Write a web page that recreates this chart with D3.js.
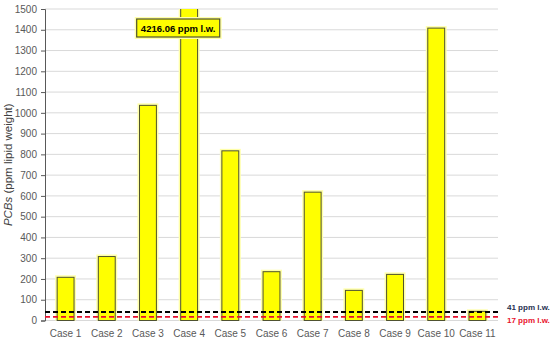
<!DOCTYPE html>
<html>
<head>
<meta charset="utf-8">
<script src="https://cdn.jsdelivr.net/npm/d3@7"></script>
<style>
  body { margin: 0; background: #fff; }
  text { font-family: "Liberation Sans", Arial, sans-serif; }
</style>
</head>
<body>
<div id="chart"></div>
<script>
var svgWidth = 550;
var svgHeight = 340;

var margin = { top: 9, right: 52, bottom: 20, left: 45 };
var width = svgWidth - margin.left - margin.right;
var height = 320.5 - margin.top;

// data
var cases = ["Case 1", "Case 2", "Case 3", "Case 4", "Case 5", "Case 6", "Case 7", "Case 8", "Case 9", "Case 10", "Case 11"];
var pcbs = [208, 308, 1036, 4216.06, 817, 235, 618, 145, 222, 1408, 44];
var yTicks = [0, 100, 200, 300, 400, 500, 600, 700, 800, 900, 1000, 1100, 1200, 1300, 1400, 1500];
var thresholds = [41, 17];
var thresholdLabels = ["41 ppm l.w.", "17 ppm l.w."];
var thresholdColors = ["#000000", "#e8112d"];
var thresholdTextColors = ["#1f3050", "#e8112d"];
var calloutText = "4216.06 ppm l.w.";

var svg = d3.select("#chart")
  .append("svg")
  .attr("width", svgWidth)
  .attr("height", svgHeight);

var chartGroup = svg.append("g")
  .attr("transform", `translate(${margin.left}, ${margin.top})`);

var x = d3.scaleBand()
  .domain(cases)
  .range([0, width])
  .paddingInner(0.59)
  .paddingOuter(0.295);

var y = d3.scaleLinear()
  .domain([0, 1500])
  .range([height, 0]);

// gridlines
chartGroup.append("g")
  .selectAll("line")
  .data(yTicks)
  .enter()
  .append("line")
  .attr("x1", 0)
  .attr("x2", width)
  .attr("y1", d => y(d))
  .attr("y2", d => y(d))
  .attr("stroke", "#d9d9d9")
  .attr("stroke-width", 1);

// y axis
var leftAxis = d3.axisLeft(y).tickValues(yTicks).tickFormat(d3.format("d")).tickSize(4).tickPadding(4);
var yAxis = chartGroup.append("g").call(leftAxis);
yAxis.select(".domain").attr("stroke", "#595959");
yAxis.selectAll(".tick line").attr("stroke", "#595959");
yAxis.selectAll("text")
  .attr("fill", "#595959")
  .style("font-size", "10px");

// bars are clipped at the top of the plot (Case 4 runs off the scale)
var clipId = "plotclip";
svg.append("defs").append("clipPath").attr("id", clipId)
  .append("rect").attr("x", -5).attr("y", 0).attr("width", width + 10).attr("height", height + 2);

var barsGroup = chartGroup.append("g").attr("clip-path", `url(#${clipId})`);

barsGroup.selectAll("rect.glow")
  .data(pcbs)
  .enter()
  .append("rect")
  .attr("class", "glow")
  .attr("x", (d, i) => x(cases[i]) - 2)
  .attr("y", d => y(Math.min(d, 1520)) - 2)
  .attr("width", x.bandwidth() + 4)
  .attr("height", d => height - y(Math.min(d, 1520)) + 2)
  .attr("fill", "#ffffa8");

barsGroup.selectAll("rect.bar")
  .data(pcbs)
  .enter()
  .append("rect")
  .attr("class", "bar")
  .attr("x", (d, i) => x(cases[i]))
  .attr("y", d => y(Math.min(d, 1520)))
  .attr("width", x.bandwidth())
  .attr("height", d => height - y(Math.min(d, 1520)))
  .attr("fill", "#ffff00")
  .attr("stroke", "#4f5230")
  .attr("stroke-width", 1);

// threshold dashed lines
chartGroup.selectAll("line.threshold")
  .data(thresholds)
  .enter()
  .append("line")
  .attr("class", "threshold")
  .attr("x1", 0)
  .attr("x2", width)
  .attr("y1", d => y(d))
  .attr("y2", d => y(d))
  .attr("stroke", (d, i) => thresholdColors[i])
  .attr("stroke-width", 1.8)
  .attr("stroke-dasharray", "5,3");

chartGroup.selectAll("text.threshold")
  .data(thresholds)
  .enter()
  .append("text")
  .attr("class", "threshold")
  .attr("x", width + 9)
  .attr("y", (d, i) => i === 0 ? y(d) - 1.5 : y(d) + 6)
  .attr("fill", (d, i) => thresholdTextColors[i])
  .style("font-size", "8px")
  .style("font-weight", "bold")
  .text((d, i) => thresholdLabels[i]);

// x labels
chartGroup.selectAll("text.xlab")
  .data(cases)
  .enter()
  .append("text")
  .attr("class", "xlab")
  .attr("x", d => x(d) + x.bandwidth() / 2)
  .attr("y", height + 16)
  .attr("text-anchor", "middle")
  .attr("fill", "#595959")
  .style("font-size", "10px")
  .text(d => d);

// callout for the clipped bar
var calloutGroup = chartGroup.append("g")
  .attr("transform", `translate(${x("Case 4") - 44}, 10)`);
calloutGroup.append("rect")
  .attr("x", -2).attr("y", -2)
  .attr("width", 87).attr("height", 22)
  .attr("fill", "#ffffa8");
calloutGroup.append("rect")
  .attr("width", 83).attr("height", 18)
  .attr("fill", "#ffff00")
  .attr("stroke", "#4f5230")
  .attr("stroke-width", 1.2);
calloutGroup.append("text")
  .attr("x", 41.5)
  .attr("y", 12.5)
  .attr("text-anchor", "middle")
  .attr("fill", "#000")
  .style("font-size", "9.5px")
  .style("font-weight", "bold")
  .text(calloutText);

// y axis label
var yLabel = svg.append("text")
  .attr("transform", `translate(12, ${margin.top + height / 2}) rotate(-90)`)
  .attr("text-anchor", "middle")
  .attr("fill", "#404040")
  .style("font-size", "11.5px");
yLabel.append("tspan").style("font-style", "italic").text("PCBs");
yLabel.append("tspan").text(" (ppm lipid weight)");
</script>
</body>
</html>
